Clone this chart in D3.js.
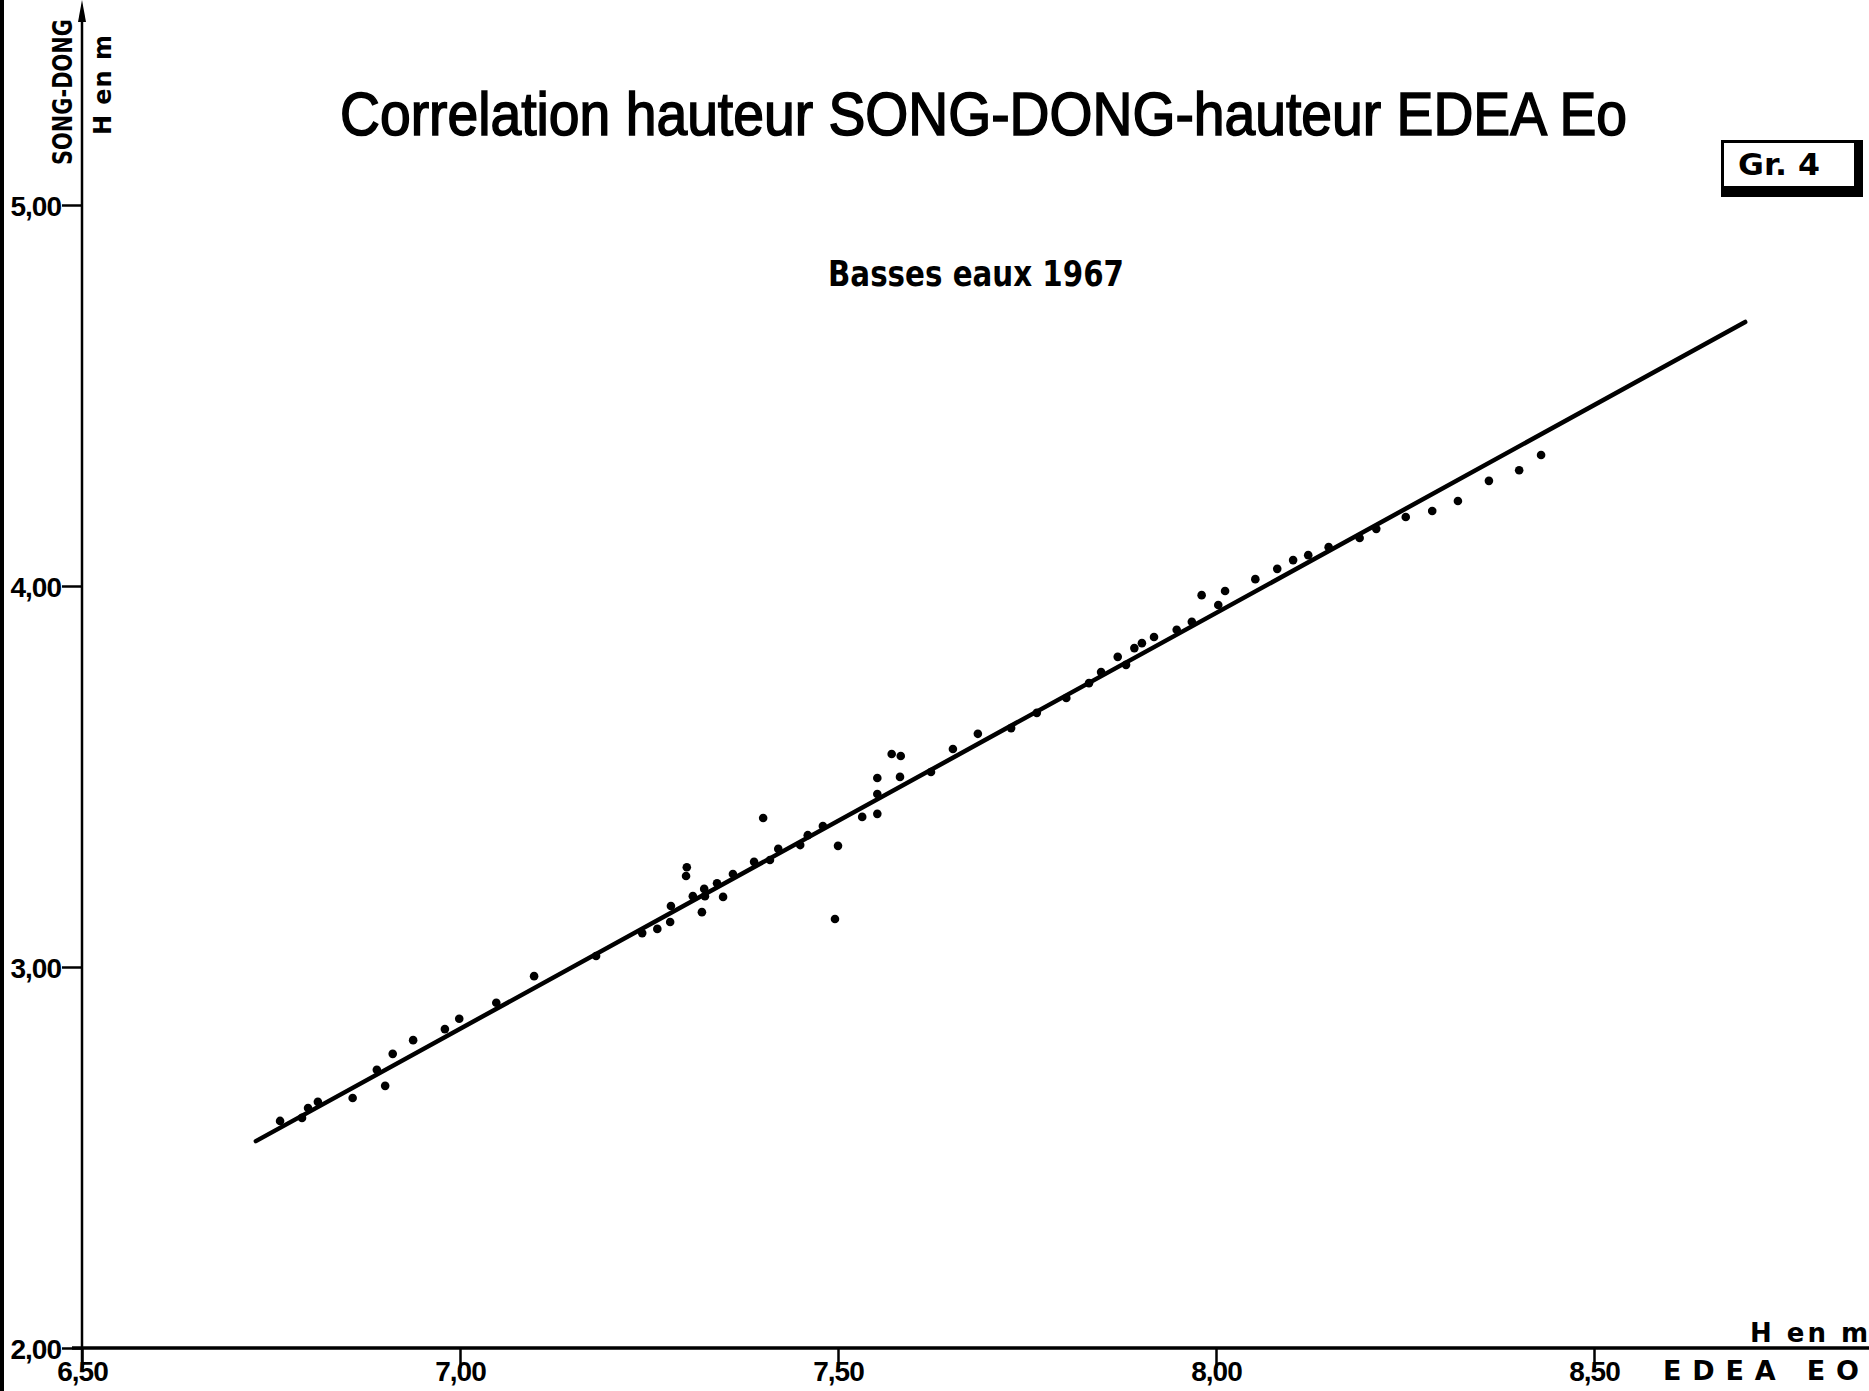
<!DOCTYPE html>
<html>
<head>
<meta charset="utf-8">
<script src="https://cdn.jsdelivr.net/npm/d3@7"></script>
<style>
  body { margin: 0; background: #fff; }
  svg { display: block; }
</style>
</head>
<body>
<div class="chart"></div>
<script>
// hauteur EDEA Eo (m) and hauteur SONG-DONG (m)
const edea = [6.762, 6.791, 6.799, 6.812, 6.858, 6.890, 6.901, 6.911, 6.938, 6.980, 6.999, 7.048, 7.098, 7.180,
    7.241, 7.261, 7.278, 7.279, 7.300, 7.299, 7.308, 7.320, 7.323, 7.324, 7.340, 7.348, 7.361, 7.389, 7.401,
    7.410, 7.421, 7.450, 7.460, 7.480, 7.500, 7.496, 7.532, 7.552, 7.552, 7.552, 7.571, 7.583, 7.582, 7.623,
    7.652, 7.685, 7.729, 7.763, 7.802, 7.832,
    7.848, 7.870, 7.881, 7.892, 7.902, 7.918, 7.948, 7.968, 7.981, 8.003, 8.012, 8.052, 8.081, 8.102, 8.122,
    8.149, 8.190, 8.212, 8.251, 8.286, 8.320, 8.361, 8.401, 8.430];
const songDong = [2.596, 2.604, 2.630, 2.646, 2.656, 2.730, 2.688, 2.772, 2.808, 2.837, 2.864, 2.906, 2.976, 3.029,
    3.089, 3.100, 3.118, 3.160, 3.262, 3.239, 3.186, 3.144, 3.205, 3.186, 3.220, 3.184, 3.244, 3.276, 3.391,
    3.281, 3.310, 3.320, 3.346, 3.370, 3.318, 3.126, 3.394, 3.402, 3.454, 3.496, 3.559, 3.554, 3.499, 3.512,
    3.572, 3.612, 3.627, 3.667, 3.706, 3.745,
    3.774, 3.814, 3.793, 3.837, 3.850, 3.866, 3.885, 3.906, 3.976, 3.950, 3.987, 4.018, 4.045, 4.068, 4.081,
    4.102, 4.126, 4.150, 4.181, 4.197, 4.223, 4.276, 4.304, 4.344];

// fitted line, two ends
const fitX = [6.73, 8.70];
const fitY = [2.543, 4.693];

const xTicks = [6.5, 7.0, 7.5, 8.0, 8.5];
const yTicks = [2, 3, 4, 5];

const width = 1869;
const height = 1391;

const x = d3.scaleLinear().domain([6.5, 8.5]).range([82, 1594]);
const y = d3.scaleLinear().domain([2, 5]).range([1348, 205]);

const fmt = d => d.toFixed(2).replace('.', ',');

const svg = d3.select('.chart').append('svg')
    .attr('width', width)
    .attr('height', height)
    .attr('viewBox', [0, 0, width, height]);

// dark scan edge on the left
svg.append('rect')
    .attr('x', 0).attr('y', 0)
    .attr('width', 4).attr('height', height)
    .attr('fill', '#000');

// axes
const xAxis = d3.axisBottom(x)
    .tickValues(xTicks)
    .tickFormat(fmt)
    .tickSize(20)
    .tickPadding(0);

const yAxis = d3.axisLeft(y)
    .tickValues(yTicks)
    .tickFormat(fmt)
    .tickSize(20)
    .tickPadding(1);

const gx = svg.append('g')
    .attr('transform', `translate(0,${y(2)})`)
    .call(xAxis);

const gy = svg.append('g')
    .attr('transform', `translate(${x(6.5)},0)`)
    .call(yAxis);

[gx, gy].forEach(g => {
    g.select('.domain').remove();
    g.selectAll('.tick line').attr('stroke', '#000').attr('stroke-width', 2.5);
    g.selectAll('.tick text')
        .attr('fill', '#000')
        .attr('letter-spacing', -1)
        .style('font-family', '"Liberation Sans", Arial, sans-serif')
        .style('font-weight', 'bold')
        .style('font-size', '28px');
});
gy.selectAll('.tick text').attr('dy', '0.36em');
gx.selectAll('.tick text').attr('dy', '0.45em');

// axis lines
svg.append('line')
    .attr('x1', x(6.5) - 10).attr('x2', width)
    .attr('y1', y(2)).attr('y2', y(2))
    .attr('stroke', '#000').attr('stroke-width', 3.5);

svg.append('line')
    .attr('x1', x(6.5)).attr('x2', x(6.5))
    .attr('y1', 14).attr('y2', y(2) + 22)
    .attr('stroke', '#000').attr('stroke-width', 2.5);

svg.append('path')
    .attr('d', `M${x(6.5)},0 L${x(6.5) - 4},22 L${x(6.5) + 4},22 Z`)
    .attr('fill', '#000');

// fitted line
const line = d3.line()
    .x(d => x(d[0]))
    .y(d => y(d[1]));

svg.append('path')
    .datum(d3.zip(fitX, fitY))
    .attr('d', line)
    .attr('fill', 'none')
    .attr('stroke', '#000')
    .attr('stroke-width', 4.5)
    .attr('stroke-linecap', 'round');

// points
svg.append('g')
    .selectAll('circle')
    .data(d3.zip(edea, songDong))
    .join('circle')
    .attr('cx', d => x(d[0]))
    .attr('cy', d => y(d[1]))
    .attr('r', 4.3)
    .attr('fill', '#000');

// titles
svg.append('text')
    .attr('x', 340).attr('y', 135)
    .attr('textLength', 1287)
    .attr('lengthAdjust', 'spacingAndGlyphs')
    .style('font-family', '"Liberation Sans", Arial, sans-serif')
    .style('font-size', '62px')
    .attr('stroke', '#000').attr('stroke-width', 1.6)
    .text('Correlation hauteur SONG-DONG-hauteur EDEA Eo');

svg.append('text')
    .attr('x', 828).attr('y', 286)
    .attr('textLength', 296)
    .attr('lengthAdjust', 'spacingAndGlyphs')
    .style('font-family', '"DejaVu Sans", sans-serif')
    .style('font-weight', 'bold')
    .style('font-size', '35px')
    .text('Basses eaux 1967');

// y axis title (rotated)
svg.append('text')
    .attr('transform', 'translate(72,92) rotate(-90)')
    .attr('text-anchor', 'middle')
    .attr('textLength', 146)
    .attr('lengthAdjust', 'spacingAndGlyphs')
    .style('font-family', '"DejaVu Sans", sans-serif')
    .style('font-weight', 'bold')
    .style('font-size', '27px')
    .text('SONG-DONG');

svg.append('text')
    .attr('transform', 'translate(111,85) rotate(-90)')
    .attr('text-anchor', 'middle')
    .attr('textLength', 100)
    .attr('lengthAdjust', 'spacing')
    .style('font-family', '"DejaVu Sans", sans-serif')
    .style('font-weight', 'bold')
    .style('font-size', '24px')
    .text('H en m');

// x axis title
svg.append('text')
    .attr('x', 1750).attr('y', 1342)
    .attr('textLength', 118)
    .attr('lengthAdjust', 'spacing')
    .style('font-family', '"DejaVu Sans", sans-serif')
    .style('font-weight', 'bold')
    .style('font-size', '26px')
    .text('H en m');

svg.append('text')
    .attr('x', 1663).attr('y', 1380)
    .attr('textLength', 196)
    .attr('lengthAdjust', 'spacing')
    .style('font-family', '"DejaVu Sans", sans-serif')
    .style('font-weight', 'bold')
    .style('font-size', '27px')
    .text('EDEA EO');

// "Gr. 4" box with heavy shadow
svg.append('rect')
    .attr('x', 1721).attr('y', 140)
    .attr('width', 142).attr('height', 57)
    .attr('fill', '#000');
svg.append('rect')
    .attr('x', 1724).attr('y', 143)
    .attr('width', 130).attr('height', 43)
    .attr('fill', '#fff');
svg.append('text')
    .attr('x', 1738).attr('y', 175)
    .attr('textLength', 82)
    .attr('lengthAdjust', 'spacingAndGlyphs')
    .style('font-family', '"DejaVu Sans", sans-serif')
    .style('font-weight', 'bold')
    .style('font-size', '30px')
    .text('Gr. 4');
</script>
</body>
</html>
